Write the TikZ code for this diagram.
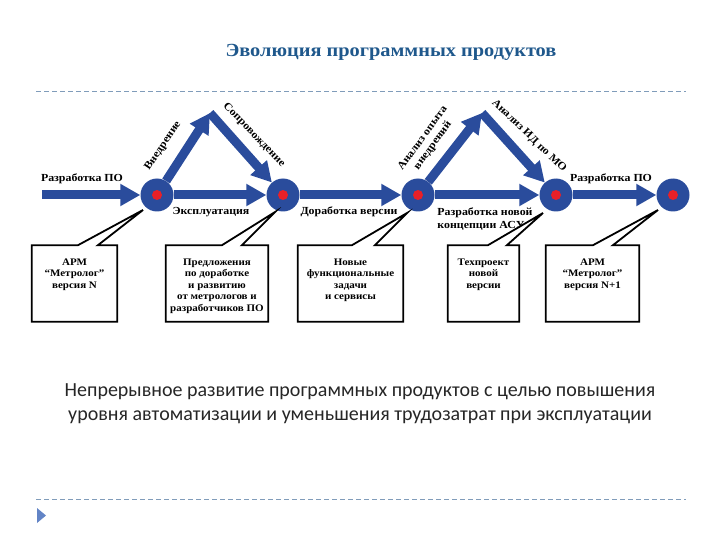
\documentclass[tikz,border=0pt]{standalone}
\usepackage{fontspec}
\setmainfont[FakeStretch=1.1]{Liberation Serif}
\newfontfamily\slidefont{Carlito}
\usepackage{xcolor}
\usetikzlibrary{arrows.meta, positioning, calc}
\definecolor{flowblue}{RGB}{42,76,156}
\definecolor{dotred}{RGB}{232,32,40}
\definecolor{titleblue}{RGB}{31,88,140}
\definecolor{rulegray}{RGB}{128,156,186}
\definecolor{bulletblue}{RGB}{98,132,198}

\begin{document}
\begin{tikzpicture}[
    x=1pt, y=-1pt,
    stage/.style={circle, fill=flowblue, minimum size=33pt, inner sep=0pt,
        path picture={\fill[dotred] (path picture bounding box.center) circle (5pt);}},
    flow/.style={line width=9pt, draw=flowblue, -{Triangle[length=20pt,width=21pt]}},
    lbl/.style={font=\bfseries\fontsize{10.8}{12.5}\selectfont, inner sep=1pt},
    infobox/.style={rectangle, minimum height=76pt, inner sep=0pt},
    boxtext/.style={align=center, font=\bfseries\fontsize{10}{11.5}\selectfont, inner sep=0pt},
    boxline/.style={line width=1.8pt, draw=black, line join=miter}
]
\useasboundingbox (0,0) rectangle (720,540);

% Title and rules
\node[font=\bfseries\fontsize{18.5}{22}\selectfont, text=titleblue] (title) at (391,52) {Эволюция программных продуктов};
\draw[rulegray, dashed, dash pattern=on 5pt off 3pt] (36,91) -- (686,91);
\draw[rulegray, dashed, dash pattern=on 5pt off 3pt] (36,499) -- (686,499);
\fill[bulletblue] (37,508) -- (46,515.5) -- (37,523) -- cycle;

% Stages
\node[stage] (c1) at (157,195) {};
\node[stage] (c2) at (283,195) {};
\node[stage] (c3) at (418,195) {};
\node[stage] (c4) at (556,195) {};
\node[stage] (c5) at (673,195) {};
\coordinate (start) at (42,195);
\coordinate (apex1) at (210,113);
\coordinate (apex2) at (482,113);

% Flow
\draw[flow] (start) -- (c1);
\draw[flow] (c1) -- (c2);
\draw[flow] (c2) -- (c3);
\draw[flow] (c3) -- (c4);
\draw[flow] (c4) -- (c5);
\draw[flow] (c1) -- (apex1);
\draw[flow] (apex1) -- (c2);
\draw[flow] (c3) -- (apex2);
\draw[flow] (apex2) -- (c4);

% Labels
\node[lbl] (dev1) at (82,179) {Разработка ПО};
\node[lbl] (use) at (211,212) {Эксплуатация};
\node[lbl] (upd) at (349,212) {Доработка версии};
\node[lbl, align=left] (concept) at (485,219) {Разработка новой\\концепции АСУ};
\node[lbl] (dev2) at (611,179) {Разработка ПО};
\node[lbl, rotate=56] (impl) at (163,146) {Внедрение};
\node[lbl, rotate=-46] (supp) at (254,135) {Сопровождение};
\node[lbl, rotate=54, align=center] (expr) at (428,142) {Анализ опыта\\внедрений};
\node[lbl, rotate=-44] (anal) at (529,136) {Анализ ИД по МО};

% Callout boxes
\node[infobox, minimum width=85pt] (b1) at (74.5,283.5) {};
\node[infobox, minimum width=102pt] (b2) at (217,283.5) {};
\node[infobox, minimum width=105pt] (b3) at (350.5,283.5) {};
\node[infobox, minimum width=71pt] (b4) at (483.5,283.5) {};
\node[infobox, minimum width=93pt] (b5) at (592.5,283.5) {};

\node[boxtext, below=13pt of b1.north] (b1text) {АРМ\\“Метролог”\\версия N};
\node[boxtext, below=13pt of b2.north] (b2text) {Предложения\\по доработке\\и развитию\\от метрологов и\\разработчиков ПО};
\node[boxtext, below=13pt of b3.north] (b3text) {Новые\\функциональные\\задачи\\и сервисы};
\node[boxtext, below=13pt of b4.north] (b4text) {Техпроект\\новой\\версии};
\node[boxtext, below=13pt of b5.north] (b5text) {АРМ\\“Метролог”\\версия N+1};

\coordinate (t1) at ($(c1)+(-14,15)$);
\coordinate (t2) at ($(c2)+(-8,17)$);
\coordinate (t3) at ($(c3)+(-11,18)$);
\coordinate (t4) at ($(c4)+(-13,18)$);
\coordinate (t5) at ($(c5)+(-15,15)$);

\draw[boxline] (b1.north west) -- ($(b1.north west)+(46,0)$) -- (t1) -- ($(b1.north west)+(66,0)$) -- (b1.north east) -- (b1.south east) -- (b1.south west) -- cycle;
\draw[boxline] (b2.north west) -- ($(b2.north west)+(56,0)$) -- (t2) -- ($(b2.north west)+(76,0)$) -- (b2.north east) -- (b2.south east) -- (b2.south west) -- cycle;
\draw[boxline] (b3.north west) -- ($(b3.north west)+(54,0)$) -- (t3) -- ($(b3.north west)+(77,0)$) -- (b3.north east) -- (b3.south east) -- (b3.south west) -- cycle;
\draw[boxline] (b4.north west) -- ($(b4.north west)+(40,0)$) -- (t4) -- ($(b4.north west)+(59,0)$) -- (b4.north east) -- (b4.south east) -- (b4.south west) -- cycle;
\draw[boxline] (b5.north west) -- ($(b5.north west)+(47,0)$) -- (t5) -- ($(b5.north west)+(67,0)$) -- (b5.north east) -- (b5.south east) -- (b5.south west) -- cycle;

% Summary
\node[font=\slidefont\fontsize{20}{24}\selectfont, align=center, text=black!85] (summary) at (360,404) {Непрерывное развитие программных продуктов с целью повышения\\уровня автоматизации и уменьшения трудозатрат при эксплуатации};

\end{tikzpicture}
\end{document}
